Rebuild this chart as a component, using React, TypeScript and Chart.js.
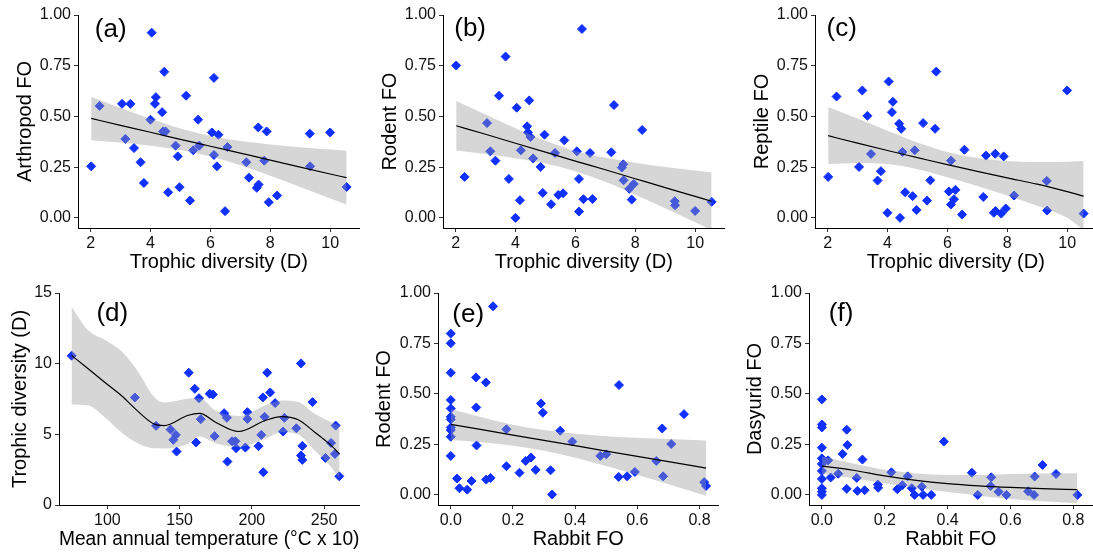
import React, { useEffect, useRef } from "react";
import { Chart, registerables } from "chart.js";

Chart.register(...registerables);

const FONT = "'Liberation Sans', Arial, Helvetica, sans-serif";
const BLUE = "rgb(16,48,255)";
const BAND = "rgba(153,153,153,0.4)";

// ---------- shared site values: trophic diversity (D) ----------
const trophicD = [2.02, 2.3, 3.05, 3.16, 3.33, 3.45, 3.67, 3.78, 4.0, 4.04, 4.15, 4.18, 4.39, 4.42, 4.46, 4.5, 4.59, 4.84, 4.91, 4.97, 5.19, 5.32, 5.43, 5.59, 5.63, 6.05, 6.12, 6.12, 6.22, 6.27, 6.49, 6.57, 7.2, 7.29, 7.55, 7.6, 7.61, 7.8, 7.88, 7.95, 8.23, 9.32, 9.33, 10.0, 10.55];

// (a) Arthropod FO
const arthropodFO = [0.254, 0.552, 0.562, 0.389, 0.562, 0.344, 0.274, 0.172, 0.484, 0.913, 0.562, 0.595, 0.521, 0.426, 0.72, 0.426, 0.126, 0.356, 0.303, 0.151, 0.602, 0.085, 0.333, 0.484, 0.356, 0.421, 0.69, 0.31, 0.254, 0.41, 0.033, 0.349, 0.274, 0.198, 0.148, 0.446, 0.164, 0.282, 0.426, 0.077, 0.11, 0.415, 0.254, 0.421, 0.152];
const fitAx = [2.02, 3, 4, 5, 6, 7, 8, 9, 10, 10.55];
const fitAy = [0.49, 0.456, 0.422, 0.387, 0.353, 0.319, 0.285, 0.25, 0.216, 0.198];
const fitAhi = [0.597, 0.541, 0.488, 0.44, 0.404, 0.379, 0.362, 0.348, 0.337, 0.331];
const fitAlo = [0.383, 0.371, 0.356, 0.334, 0.302, 0.259, 0.208, 0.152, 0.095, 0.065];

// (b) Rodent FO vs D
const rodentFO_D = [0.751, 0.202, 0.467, 0.328, 0.282, 0.602, 0.795, 0.192, 0.0, 0.543, 0.087, 0.333, 0.451, 0.421, 0.579, 0.398, 0.293, 0.251, 0.123, 0.41, 0.067, 0.32, 0.113, 0.121, 0.382, 0.328, 0.192, 0.031, 0.931, 0.092, 0.32, 0.093, 0.323, 0.556, 0.248, 0.264, 0.185, 0.143, 0.09, 0.167, 0.433, 0.082, 0.062, 0.034, 0.079];
const fitBx = [2.02, 3, 4, 5, 6, 7, 8, 9, 10, 10.55];
const fitBy = [0.454, 0.412, 0.368, 0.324, 0.28, 0.237, 0.193, 0.149, 0.106, 0.082];
const fitBhi = [0.576, 0.51, 0.442, 0.38, 0.33, 0.296, 0.272, 0.251, 0.234, 0.225];
const fitBlo = [0.332, 0.315, 0.294, 0.268, 0.23, 0.178, 0.114, 0.047, -0.022, -0.061];

// (c) Reptile FO
const reptileFO = [0.202, 0.598, 0.251, 0.628, 0.503, 0.315, 0.184, 0.23, 0.025, 0.672, 0.521, 0.572, 0.464, 0.0, 0.439, 0.325, 0.126, 0.107, 0.333, 0.039, 0.467, 0.085, 0.185, 0.439, 0.721, 0.13, 0.282, 0.066, 0.092, 0.138, 0.016, 0.336, 0.103, 0.307, 0.025, 0.316, 0.034, 0.021, 0.303, 0.046, 0.11, 0.182, 0.036, 0.628, 0.021];
const fitCx = [2.02, 3, 4, 5, 6, 7, 8, 9, 10, 10.55];
const fitCy = [0.405, 0.368, 0.332, 0.297, 0.262, 0.229, 0.197, 0.166, 0.129, 0.107];
const fitChi = [0.546, 0.49, 0.43, 0.372, 0.325, 0.295, 0.28, 0.275, 0.277, 0.28];
const fitClo = [0.264, 0.27, 0.265, 0.24, 0.2, 0.157, 0.11, 0.06, 0.0, -0.06];

// (d) Trophic diversity vs mean annual temperature
const meanTemp = [75.3, 119.0, 133.7, 143.7, 145.6, 147.4, 147.9, 156.3, 160.5, 161.4, 163.4, 164.6, 170.8, 173.0, 174.2, 180.8, 182.7, 183.1, 186.3, 188.6, 189.1, 195.5, 196.9, 196.9, 204.6, 206.5, 207.6, 207.9, 208.8, 210.6, 212.7, 216.1, 221.6, 222.5, 230.8, 234.0, 234.0, 234.9, 234.9, 242.0, 250.9, 254.8, 257.5, 258.0, 260.5];
const trophicByTemp = [10.56, 7.61, 5.6, 5.34, 4.61, 4.96, 3.78, 9.36, 8.22, 4.42, 7.56, 6.07, 7.87, 7.82, 4.87, 6.5, 6.17, 3.07, 4.51, 4.51, 4.02, 4.06, 6.57, 6.09, 4.16, 4.96, 7.61, 2.32, 6.24, 9.36, 7.96, 7.21, 5.2, 6.17, 5.43, 10.02, 3.5, 4.18, 3.19, 7.28, 3.33, 4.39, 3.61, 5.62, 2.03];
const fitDx = [75.2, 86.7, 98.1, 109.6, 121.0, 132.5, 139.4, 155.4, 164.0, 174.8, 190.9, 209.2, 220.6, 232.1, 243.5, 255.0, 260.7];
const fitDy = [10.58, 9.64, 8.69, 7.75, 6.64, 5.72, 5.62, 6.33, 6.48, 5.86, 5.2, 5.98, 6.26, 6.03, 5.15, 4.2, 3.62];
const fitDhi = [14.01, 12.36, 11.69, 10.89, 9.47, 7.63, 7.25, 7.51, 7.55, 6.68, 6.3, 7.04, 7.39, 7.28, 6.45, 5.86, 5.62];
const fitDlo = [7.11, 7.04, 6.21, 5.15, 4.37, 4.01, 4.0, 4.32, 4.85, 4.37, 4.1, 4.68, 5.15, 4.98, 3.85, 2.67, 1.84];

// (e) Rodent FO vs Rabbit FO
const rabbitFO_e = [0, 0, 0, 0, 0, 0, 0, 0, 0, 0, 0, 0.02, 0.028, 0.053, 0.067, 0.081, 0.082, 0.083, 0.113, 0.114, 0.128, 0.136, 0.179, 0.179, 0.221, 0.241, 0.258, 0.273, 0.29, 0.296, 0.321, 0.326, 0.352, 0.391, 0.481, 0.5, 0.541, 0.54, 0.567, 0.592, 0.661, 0.68, 0.683, 0.709, 0.75, 0.815, 0.821];
const rodentFO_e = [0.799, 0.751, 0.605, 0.47, 0.428, 0.387, 0.374, 0.334, 0.321, 0.288, 0.193, 0.081, 0.033, 0.026, 0.069, 0.582, 0.433, 0.245, 0.557, 0.076, 0.084, 0.934, 0.325, 0.142, 0.11, 0.168, 0.185, 0.124, 0.453, 0.407, 0.122, 0.002, 0.318, 0.264, 0.193, 0.201, 0.544, 0.089, 0.092, 0.114, 0.168, 0.329, 0.092, 0.252, 0.4, 0.063, 0.044];
const fitEx = [0, 0.1, 0.2, 0.3, 0.4, 0.5, 0.6, 0.7, 0.821];
const fitEy = [0.349, 0.323, 0.296, 0.27, 0.244, 0.217, 0.191, 0.165, 0.133];
const fitEhi = [0.426, 0.385, 0.348, 0.321, 0.303, 0.291, 0.283, 0.277, 0.27];
const fitElo = [0.272, 0.261, 0.244, 0.219, 0.184, 0.143, 0.099, 0.053, -0.004];

// (f) Dasyurid FO vs Rabbit FO
const rabbitFO_f = [0, 0, 0, 0, 0, 0, 0, 0, 0, 0, 0, 0.02, 0.028, 0.052, 0.066, 0.079, 0.081, 0.079, 0.111, 0.113, 0.129, 0.136, 0.178, 0.179, 0.221, 0.24, 0.256, 0.273, 0.286, 0.295, 0.318, 0.322, 0.348, 0.388, 0.477, 0.496, 0.539, 0.537, 0.562, 0.587, 0.656, 0.677, 0.675, 0.702, 0.745, 0.813];
const dasyuridFO = [0.473, 0.349, 0.334, 0.234, 0.181, 0.153, 0.119, 0.079, 0.033, 0.016, 0.0, 0.171, 0.086, 0.105, 0.203, 0.323, 0.247, 0.03, 0.084, 0.02, 0.175, 0.023, 0.051, 0.035, 0.112, 0.028, 0.048, 0.092, 0.033, 0.0, 0.041, 0.0, 0.0, 0.264, 0.11, 0.0, 0.087, 0.044, 0.016, 0.0, 0.018, 0.091, 0.0, 0.148, 0.104, 0.0];
const fitFx = [0, 0.1, 0.2, 0.3, 0.4, 0.5, 0.6, 0.7, 0.813];
const fitFy = [0.143, 0.122, 0.094, 0.072, 0.056, 0.045, 0.037, 0.031, 0.026];
const fitFhi = [0.19, 0.155, 0.124, 0.106, 0.099, 0.099, 0.104, 0.106, 0.107];
const fitFlo = [0.104, 0.083, 0.058, 0.034, 0.014, -0.004, -0.02, -0.031, -0.041];

// tick values
const dTicks = [2, 4, 6, 8, 10];
const foTicks = [0, 0.25, 0.5, 0.75, 1.0];
const tempTicks = [100, 150, 200, 250];
const dTicks15 = [0, 5, 10, 15];
const rabbitTicks = [0, 0.2, 0.4, 0.6, 0.8];

type Panel = {
  tag: string; tagX: number; tagY: number;
  xs: number[]; ys: number[];
  fx: number[]; fy: number[]; fhi: number[]; flo: number[];
  xTitle: string; yTitle: string;
  xMin: number; xMax: number; yMin: number; yMax: number;
  xTicks: number[]; yTicks: number[]; xDec: number; yDec: number;
  box: { left: number; top: number; width: number; height: number; yw: number; yTitlePad: number };
};

const panels: Panel[] = [
  { tag: "(a)", tagX: 2.14, tagY: 0.929, xs: trophicD, ys: arthropodFO, fx: fitAx, fy: fitAy, fhi: fitAhi, flo: fitAlo,
    xTitle: "Trophic diversity (D)", yTitle: "Arthropod FO", xMin: 1.58, xMax: 10.98, yMin: -0.05, yMax: 1.0,
    xTicks: dTicks, yTicks: foTicks, xDec: 0, yDec: 2, box: { left: 0, top: 0, width: 365, height: 280, yw: 78, yTitlePad: 13.5 } },
  { tag: "(b)", tagX: 1.955, tagY: 0.93, xs: trophicD, ys: rodentFO_D, fx: fitBx, fy: fitBy, fhi: fitBhi, flo: fitBlo,
    xTitle: "Trophic diversity (D)", yTitle: "Rodent FO", xMin: 1.58, xMax: 10.98, yMin: -0.05, yMax: 1.0,
    xTicks: dTicks, yTicks: foTicks, xDec: 0, yDec: 2, box: { left: 365, top: 0, width: 365, height: 280, yw: 78, yTitlePad: 13.5 } },
  { tag: "(c)", tagX: 1.967, tagY: 0.93, xs: trophicD, ys: reptileFO, fx: fitCx, fy: fitCy, fhi: fitChi, flo: fitClo,
    xTitle: "Trophic diversity (D)", yTitle: "Reptile FO", xMin: 1.58, xMax: 10.98, yMin: -0.05, yMax: 1.0,
    xTicks: dTicks, yTicks: foTicks, xDec: 0, yDec: 2, box: { left: 737, top: 0, width: 365, height: 280, yw: 78, yTitlePad: 13.5 } },
  { tag: "(d)", tagX: 92.4, tagY: 13.5, xs: meanTemp, ys: trophicByTemp, fx: fitDx, fy: fitDy, fhi: fitDhi, flo: fitDlo,
    xTitle: "Mean annual temperature (°C x 10)", yTitle: "Trophic diversity (D)", xMin: 66.5, xMax: 274.5, yMin: 0, yMax: 15,
    xTicks: tempTicks, yTicks: dTicks15, xDec: 0, yDec: 0, box: { left: 0, top: 278, width: 365, height: 279, yw: 59, yTitlePad: 8.8 } },
  { tag: "(e)", tagX: 0.005, tagY: 0.891, xs: rabbitFO_e, ys: rodentFO_e, fx: fitEx, fy: fitEy, fhi: fitEhi, flo: fitElo,
    xTitle: "Rabbit FO", yTitle: "Rodent FO", xMin: -0.041, xMax: 0.861, yMin: -0.05, yMax: 1.0,
    xTicks: rabbitTicks, yTicks: foTicks, xDec: 1, yDec: 2, box: { left: 360, top: 278, width: 364, height: 279, yw: 78, yTitlePad: 12.4 } },
  { tag: "(f)", tagX: 0.022, tagY: 0.896, xs: rabbitFO_f, ys: dasyuridFO, fx: fitFx, fy: fitFy, fhi: fitFhi, flo: fitFlo,
    xTitle: "Rabbit FO", yTitle: "Dasyurid FO", xMin: -0.041, xMax: 0.861, yMin: -0.05, yMax: 1.0,
    xTicks: rabbitTicks, yTicks: foTicks, xDec: 1, yDec: 2, box: { left: 731, top: 278, width: 367, height: 279, yw: 78, yTitlePad: 12.5 } },
];

function PanelChart({ p }: { p: Panel }) {
  const ref = useRef<HTMLCanvasElement>(null);
  useEffect(() => {
    const canvas = ref.current;
    if (!canvas) return;
    const toPts = (xs: number[], ys: number[]) => xs.map((x, i) => ({ x, y: ys[i] }));
    const tagPlugin = {
      id: "panelTag",
      afterDraw(chart: any) {
        const { ctx, scales } = chart;
        ctx.save();
        ctx.font = `26px ${FONT}`;
        ctx.fillStyle = "#000";
        ctx.textAlign = "left";
        ctx.textBaseline = "middle";
        ctx.fillText(p.tag, scales.x.getPixelForValue(p.tagX), scales.y.getPixelForValue(p.tagY));
        ctx.restore();
      },
    };
    const tickFont = { size: 16, family: FONT };
    const titleFont = { size: 20, family: FONT };
    const grid = { display: true, drawOnChartArea: false, drawTicks: true, tickLength: 4, tickColor: "#333", tickWidth: 1 };
    const border = { display: true, color: "#000", width: 1 };
    const chart = new Chart(canvas, {
      type: "line",
      data: {
        datasets: [
          {
            data: toPts(p.xs, p.ys), showLine: false, pointStyle: "rectRot", pointRadius: 4.5, pointBorderWidth: 1,
            pointBackgroundColor: BLUE, pointBorderColor: BLUE, backgroundColor: BLUE, borderColor: BLUE, order: 4,
          },
          {
            data: toPts(p.fx, p.fhi), borderColor: "rgba(0,0,0,0)", borderWidth: 1, pointRadius: 0, fill: false,
            cubicInterpolationMode: "monotone", order: 3,
          },
          {
            data: toPts(p.fx, p.flo), borderColor: "rgba(0,0,0,0)", borderWidth: 1, pointRadius: 0, fill: "-1",
            backgroundColor: BAND, cubicInterpolationMode: "monotone", order: 2,
          },
          {
            data: toPts(p.fx, p.fy), borderColor: "#000", borderWidth: 1.2, pointRadius: 0, fill: false,
            cubicInterpolationMode: "monotone", order: 1,
          },
        ],
      } as any,
      options: {
        animation: false,
        responsive: false,
        maintainAspectRatio: false,
        devicePixelRatio: 1,
        events: [],
        layout: { padding: { top: 15, right: 3, left: 0, bottom: 0 } },
        plugins: { legend: { display: false }, tooltip: { enabled: false }, filler: { propagate: false } },
        scales: {
          x: {
            type: "linear", min: p.xMin, max: p.xMax,
            afterBuildTicks: (axis: any) => { axis.ticks = p.xTicks.map((v) => ({ value: v })); },
            afterFit: (s: any) => { s.height = 52; },
            ticks: { callback: (v: any) => Number(v).toFixed(p.xDec), font: tickFont, color: "#111", padding: 2, maxRotation: 0, autoSkip: false },
            grid, border,
            title: { display: true, text: p.xTitle, font: titleFont, color: "#000", padding: { top: 0, bottom: 6 } },
          },
          y: {
            type: "linear", min: p.yMin, max: p.yMax,
            afterBuildTicks: (axis: any) => { axis.ticks = p.yTicks.map((v) => ({ value: v })); },
            afterFit: (s: any) => { s.width = p.box.yw; },
            ticks: { callback: (v: any) => Number(v).toFixed(p.yDec), font: tickFont, color: "#111", padding: 3, autoSkip: false },
            grid, border,
            title: { display: true, text: p.yTitle, font: titleFont, color: "#000", padding: { top: p.box.yTitlePad, bottom: 0 } },
          },
        },
      } as any,
      plugins: [tagPlugin],
    });
    return () => chart.destroy();
  }, [p]);
  const b = p.box;
  return (
    <canvas
      ref={ref}
      width={b.width}
      height={b.height}
      style={{ position: "absolute", left: b.left, top: b.top, width: b.width, height: b.height }}
    />
  );
}

export default function App() {
  return (
    <div style={{ position: "absolute", left: 0, top: 0, width: 1093, height: 553, overflow: "hidden", background: "#fff" }}>
      {panels.map((p) => (
        <PanelChart key={p.tag} p={p} />
      ))}
    </div>
  );
}
